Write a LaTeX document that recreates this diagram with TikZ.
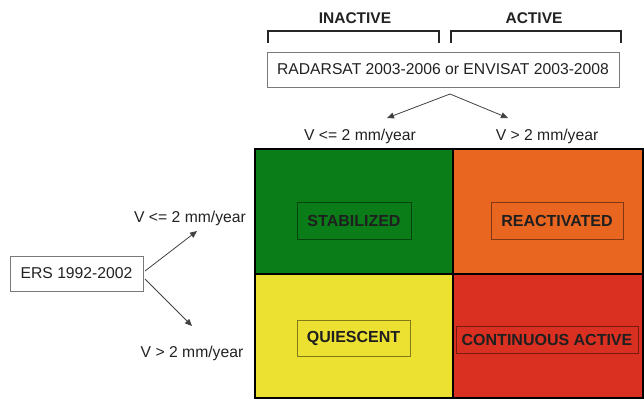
\documentclass[tikz,border=0pt]{standalone}
\usepackage{fontspec}
\setmainfont{Liberation Sans}
\usetikzlibrary{arrows.meta}
\definecolor{cgreen}{HTML}{0A7D18}
\definecolor{corange}{HTML}{E8661F}
\definecolor{cyellow}{HTML}{ECE031}
\definecolor{cred}{HTML}{D93021}
\definecolor{ink}{HTML}{222222}
\definecolor{frame}{HTML}{7A7A7A}
\begin{document}
\begin{tikzpicture}[x=1pt,y=-1pt,
  txt/.style={font=\fontsize{15.7}{18}\selectfont, text=ink, inner sep=0pt},
  head/.style={font=\fontsize{15.5}{18}\selectfont\bfseries, text=ink, inner sep=0pt},
  srcbox/.style={draw=frame, line width=0.9pt, fill=white, inner sep=0pt},
  cell/.style={draw=black, line width=1.4pt},
  tag/.style={draw=black, draw opacity=0.45, line width=1pt, inner sep=0pt,
    font=\fontsize{16}{18}\selectfont\bfseries, text=black!88},
  arr/.style={draw=black!75, line width=0.8pt, -{Triangle[length=7pt,width=6pt]}},
  brk/.style={draw=black!85, line width=1.6pt}]
\useasboundingbox (0,0) rectangle (644,400);

% column headers and their brackets
\node[head] (hin) at (355,18) {INACTIVE};
\node[head] (hact) at (534,18) {ACTIVE};
\draw[brk] (268,43) -- (268,31) -- (439,31) -- (439,43);
\draw[brk] (451,43) -- (451,31) -- (621,31) -- (621,43);

% satellite sources
\node[srcbox, minimum width=352pt, minimum height=35pt, txt] (sat) at (443,69.5)
  {RADARSAT 2003-2006 or ENVISAT 2003-2008};
\node[srcbox, minimum width=133pt, minimum height=35pt, txt] (ers) at (76.5,273.5)
  {ERS 1992-2002};

% velocity labels
\node[txt] (vlt) at (360,136) {V <= 2 mm/year};
\node[txt] (vgt) at (547,136) {V > 2 mm/year};
\node[txt] (hlt) at (190,218) {V <= 2 mm/year};
\node[txt] (hgt) at (192,353) {V > 2 mm/year};

% branching arrows
\coordinate (split) at (450,94);
\coordinate (ea) at (387,118);
\coordinate (eb) at (508,118);
\draw[arr] (split) -- (ea);
\draw[arr] (split) -- (eb);
\coordinate (ersA) at (145,271);
\coordinate (ersB) at (145,279);
\coordinate (ec) at (197,231);
\coordinate (ed) at (192,326);
\draw[arr] (ersA) -- (ec);
\draw[arr] (ersB) -- (ed);

% classification matrix
\fill[cgreen] (255,149) rectangle (453,274);
\fill[corange] (453,149) rectangle (643,274);
\fill[cyellow] (255,274) rectangle (453,398);
\fill[cred] (453,274) rectangle (643,398);
\draw[cell] (255,149) rectangle (643,398);
\draw[cell] (453,149) -- (453,398);
\draw[cell] (255,274) -- (643,274);

% state labels
\node[tag, minimum width=114pt, minimum height=37pt] (stab) at (354,220.5) {STABILIZED};
\node[tag, minimum width=132pt, minimum height=37pt] (react) at (557,220.5) {REACTIVATED};
\node[tag, minimum width=113pt, minimum height=36pt] (quies) at (353.5,338) {QUIESCENT};
\node[tag, minimum width=182pt, minimum height=27pt] (cont) at (547,339.5) {CONTINUOUS ACTIVE};
\end{tikzpicture}
\end{document}
